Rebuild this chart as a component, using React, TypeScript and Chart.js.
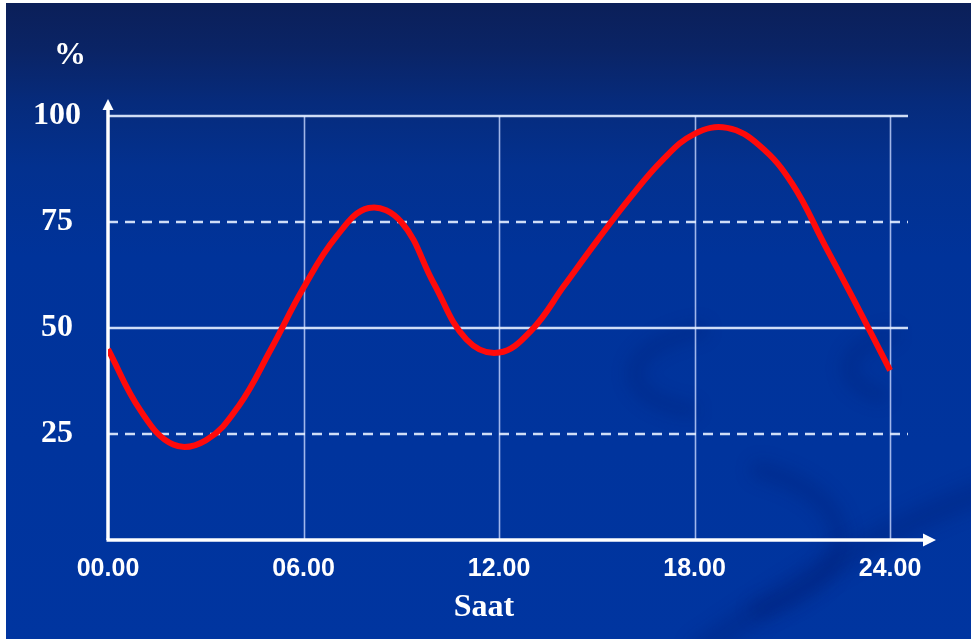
import { useEffect, useRef } from 'react';
import { Chart, registerables } from 'chart.js';

Chart.register(...registerables);

// Hour of day and the load percentage at that hour
const HOURS = [0, 1, 2, 3, 4, 5, 6, 7, 8, 9, 10, 11, 12, 13, 14, 15, 16, 17, 18, 19, 20, 21, 22, 23, 24];
const LOAD = [45, 30.5, 22.5, 23.5, 31.5, 45, 59.5, 71.5, 78.3, 75, 60.5, 47.3, 44.2, 49.5, 60, 70.5, 80.5, 89.5, 95.8, 97.2, 93, 84, 69.5, 55, 40];

const HOUR_TICKS = [0, 6, 12, 18, 24];
const PERCENT_TICKS = [25, 50, 75, 100];
const DASHED_LEVELS = [25, 75];
const X_TITLE = 'Saat';
const Y_TITLE = '%';

const SERIF = '"Liberation Serif", "Times New Roman", serif';
const SANS = '"Liberation Sans", Arial, sans-serif';

const backdrop = {
  id: 'backdrop',
  beforeDraw(chart: any) {
    const { ctx, width, height } = chart;
    ctx.save();
    const g = ctx.createLinearGradient(0, 0, 0, height);
    g.addColorStop(0, '#0b1f58');
    g.addColorStop(0.08, '#0a2466');
    g.addColorStop(0.16, '#062b7c');
    g.addColorStop(0.26, '#03318f');
    g.addColorStop(0.4, '#00339a');
    g.addColorStop(1, '#0035a0');
    ctx.fillStyle = g;
    ctx.fillRect(0, 0, width, height);

    // faint swooshes in the lower right of the slide
    ctx.filter = 'blur(8px)';
    ctx.strokeStyle = 'rgba(0, 22, 100, 0.2)';
    ctx.lineCap = 'round';
    ctx.lineWidth = 16;
    ctx.beginPath();
    ctx.moveTo(700, 330);
    ctx.bezierCurveTo(610, 350, 620, 400, 690, 410);
    ctx.stroke();
    ctx.beginPath();
    ctx.moveTo(890, 335);
    ctx.bezierCurveTo(835, 350, 840, 385, 880, 395);
    ctx.stroke();
    ctx.lineWidth = 20;
    ctx.beginPath();
    ctx.moveTo(760, 470);
    ctx.bezierCurveTo(870, 500, 860, 580, 760, 610);
    ctx.stroke();
    ctx.lineWidth = 26;
    ctx.beginPath();
    ctx.moveTo(700, 650);
    ctx.bezierCurveTo(800, 580, 900, 520, 990, 490);
    ctx.stroke();
    ctx.filter = 'none';

    // white slide edges
    ctx.fillStyle = '#ffffff';
    ctx.fillRect(0, 0, 6, height);
    ctx.fillRect(0, 0, width, 3);
    ctx.fillRect(0, height - 3, width, 3);
    ctx.restore();
  },
};

const gridAndAxes = {
  id: 'gridAndAxes',
  beforeDatasetsDraw(chart: any) {
    const { ctx, chartArea: a, scales } = chart;
    const xs = scales.x;
    const ys = scales.y;
    const line = (x1: number, y1: number, x2: number, y2: number) => {
      ctx.beginPath();
      ctx.moveTo(x1, y1);
      ctx.lineTo(x2, y2);
      ctx.stroke();
    };
    ctx.save();

    // vertical hour lines
    ctx.strokeStyle = 'rgba(200, 215, 255, 0.8)';
    ctx.lineWidth = 1.6;
    HOUR_TICKS.filter((h) => h > 0).forEach((h) => {
      const px = Math.round(xs.getPixelForValue(h)) + 0.5;
      line(px, a.top, px, a.bottom);
    });

    // horizontal percent lines
    ctx.strokeStyle = 'rgba(225, 235, 255, 0.92)';
    ctx.lineWidth = 2.5;
    PERCENT_TICKS.forEach((v) => {
      const py = Math.round(ys.getPixelForValue(v));
      ctx.setLineDash(DASHED_LEVELS.includes(v) ? [10, 7] : []);
      line(a.left, py, a.right, py);
    });
    ctx.setLineDash([]);

    // axes with arrow heads
    ctx.strokeStyle = '#ffffff';
    ctx.fillStyle = '#ffffff';
    ctx.lineWidth = 3.5;
    line(a.left, a.bottom, a.left, a.top - 8);
    line(a.left - 1.5, a.bottom, a.right + 18, a.bottom);
    ctx.beginPath();
    ctx.moveTo(a.left, a.top - 17);
    ctx.lineTo(a.left - 5.5, a.top - 6);
    ctx.lineTo(a.left + 5.5, a.top - 6);
    ctx.closePath();
    ctx.fill();
    ctx.beginPath();
    ctx.moveTo(a.right + 28, a.bottom);
    ctx.lineTo(a.right + 15, a.bottom - 6.5);
    ctx.lineTo(a.right + 15, a.bottom + 6.5);
    ctx.closePath();
    ctx.fill();
    ctx.restore();
  },
};

const axisTitles = {
  id: 'axisTitles',
  afterDraw(chart: any) {
    const { ctx, chartArea: a, scales } = chart;
    ctx.save();
    ctx.fillStyle = '#ffffff';
    ctx.textAlign = 'center';
    ctx.textBaseline = 'middle';
    ctx.font = `bold 32px ${SERIF}`;
    ctx.fillText(Y_TITLE, a.left - 38, a.top - 60);
    ctx.fillText(X_TITLE, scales.x.getPixelForValue(12) - 15, a.bottom + 68);
    ctx.restore();
  },
};

export default function App() {
  const canvasRef = useRef<HTMLCanvasElement | null>(null);

  useEffect(() => {
    const canvas = canvasRef.current;
    if (!canvas) return;
    const chart = new Chart(canvas, {
      type: 'line',
      data: {
        datasets: [
          {
            data: HOURS.map((h, i) => ({ x: h, y: LOAD[i] })),
            borderColor: '#ff0a0a',
            borderWidth: 6,
            pointRadius: 0,
            tension: 0.4,
            fill: false,
          },
        ],
      },
      options: {
        responsive: false,
        animation: false,
        devicePixelRatio: 1,
        layout: { padding: { left: 0, top: 116, right: 63, bottom: 0 } },
        plugins: {
          legend: { display: false },
          tooltip: { enabled: false },
        },
        scales: {
          x: {
            type: 'linear',
            min: 0,
            max: 24.55,
            grid: { display: false },
            border: { display: false },
            afterBuildTicks: (scale: any) => {
              scale.ticks = HOUR_TICKS.map((v) => ({ value: v }));
            },
            afterFit: (scale: any) => {
              scale.height = 102;
            },
            ticks: {
              color: '#ffffff',
              padding: 6,
              maxRotation: 0,
              autoSkip: false,
              font: { family: SANS, weight: 'bold', size: 25 },
              callback: (v: any) => `${String(v).padStart(2, '0')}.00`,
            },
          },
          y: {
            type: 'linear',
            min: 0,
            max: 100,
            grid: { display: false },
            border: { display: false },
            afterBuildTicks: (scale: any) => {
              scale.ticks = PERCENT_TICKS.map((v) => ({ value: v }));
            },
            afterFit: (scale: any) => {
              scale.width = 108;
            },
            ticks: {
              color: '#ffffff',
              padding: 19,
              crossAlign: 'center',
              font: { family: SERIF, weight: 'bold', size: 32 },
            },
          },
        },
      },
      plugins: [backdrop, gridAndAxes, axisTitles],
    } as any);
    return () => chart.destroy();
  }, []);

  return (
    <div style={{ position: 'fixed', left: 0, top: 0, width: 971, height: 642 }}>
      <canvas ref={canvasRef} width={971} height={642} style={{ display: 'block' }} />
    </div>
  );
}
